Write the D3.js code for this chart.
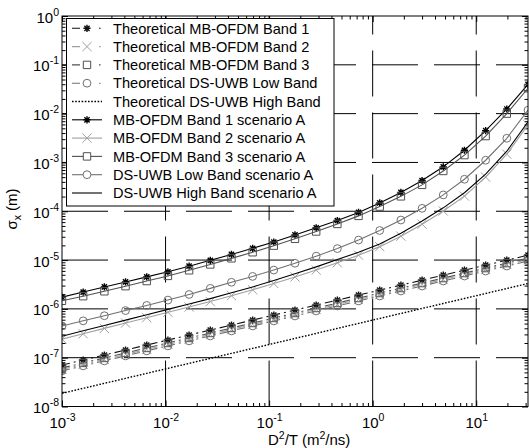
<!DOCTYPE html>
<html>
<head>
<meta charset="utf-8">
<script src="https://cdn.jsdelivr.net/npm/d3@7"></script>
<style>
  body { margin: 0; background: #fff; }
  svg { display: block; font-family: "Liberation Sans", Arial, sans-serif; }
</style>
</head>
<body>
<div id="chart"></div>
<script>
  'use strict';

  // D^2/T sample points (m^2/ns)
  const xVals = [0.001, 0.001601, 0.002565, 0.004107, 0.006579, 0.01054, 0.01688, 0.02704, 0.04329, 0.06934,
    0.1110, 0.1778, 0.2848, 0.4561, 0.7305, 1.170, 1.874, 3.001, 4.806, 7.697, 12.33, 19.74, 31.62];

  // theoretical curves
  const thBand1 = [7.08e-8, 8.96e-8, 1.134e-7, 1.435e-7, 1.816e-7, 2.298e-7, 2.908e-7, 3.680e-7, 4.657e-7, 5.894e-7, 7.459e-7, 9.439e-7,
    1.195e-6, 1.512e-6, 1.913e-6, 2.421e-6, 3.064e-6, 3.877e-6, 4.907e-6, 6.209e-6, 7.858e-6, 9.944e-6, 1.258e-5];
  const thBand2 = [5.76e-8, 7.28e-8, 9.22e-8, 1.167e-7, 1.476e-7, 1.868e-7, 2.364e-7, 2.992e-7, 3.786e-7, 4.792e-7, 6.064e-7, 7.674e-7,
    9.715e-7, 1.229e-6, 1.555e-6, 1.968e-6, 2.491e-6, 3.152e-6, 3.989e-6, 5.048e-6, 6.389e-6, 8.084e-6, 1.023e-5];
  const thBand3 = [6.17e-8, 7.80e-8, 9.88e-8, 1.250e-7, 1.582e-7, 2.002e-7, 2.533e-7, 3.205e-7, 4.056e-7, 5.134e-7, 6.497e-7, 8.221e-7,
    1.041e-6, 1.317e-6, 1.666e-6, 2.109e-6, 2.669e-6, 3.377e-6, 4.274e-6, 5.408e-6, 6.844e-6, 8.661e-6, 1.096e-5];
  const thDsLow = [5.37e-8, 6.80e-8, 8.61e-8, 1.089e-7, 1.378e-7, 1.744e-7, 2.207e-7, 2.793e-7, 3.535e-7, 4.474e-7, 5.661e-7, 7.164e-7,
    9.070e-7, 1.148e-6, 1.452e-6, 1.838e-6, 2.326e-6, 2.943e-6, 3.724e-6, 4.713e-6, 5.964e-6, 7.548e-6, 9.548e-6];
  const thDsHigh = [1.862e-8, 2.356e-8, 2.982e-8, 3.774e-8, 4.776e-8, 6.044e-8, 7.648e-8, 9.678e-8, 1.225e-7, 1.550e-7, 1.962e-7, 2.482e-7,
    3.143e-7, 3.977e-7, 5.031e-7, 6.367e-7, 8.058e-7, 1.020e-6, 1.291e-6, 1.633e-6, 2.067e-6, 2.615e-6, 3.309e-6];

  // scenario A curves
  const aBand1 = [1.738e-6, 2.213e-6, 2.818e-6, 3.565e-6, 4.519e-6, 5.754e-6, 7.499e-6, 9.886e-6, 1.303e-5, 1.738e-5, 2.344e-5, 3.273e-5,
    4.592e-5, 6.457e-5, 9.441e-5, 1.479e-4, 2.427e-4, 4.266e-4, 8.128e-4, 1.778e-3, 4.467e-3, 1.245e-2, 3.981e-2];
  const aBand2 = [2.399e-7, 3.090e-7, 3.981e-7, 5.129e-7, 6.607e-7, 8.511e-7, 1.096e-6, 1.413e-6, 1.862e-6, 2.455e-6, 3.311e-6, 4.519e-6,
    6.237e-6, 8.810e-6, 1.259e-5, 1.884e-5, 3.090e-5, 5.433e-5, 1.012e-4, 2.042e-4, 5.012e-4, 1.479e-3, 5.888e-3];
  const aBand3 = [1.462e-6, 1.820e-6, 2.291e-6, 2.917e-6, 3.715e-6, 4.732e-6, 6.166e-6, 8.128e-6, 1.084e-5, 1.445e-5, 1.972e-5, 2.723e-5,
    3.846e-5, 5.495e-5, 8.035e-5, 1.245e-4, 2.018e-4, 3.467e-4, 6.683e-4, 1.413e-3, 3.467e-3, 1.0e-2, 3.311e-2];
  const aDsLow = [4.467e-7, 5.689e-7, 7.244e-7, 9.226e-7, 1.175e-6, 1.514e-6, 1.972e-6, 2.630e-6, 3.508e-6, 4.624e-6, 6.237e-6, 8.610e-6,
    1.202e-5, 1.718e-5, 2.570e-5, 4.027e-5, 6.607e-5, 1.148e-4, 2.163e-4, 4.519e-4, 1.109e-3, 3.126e-3, 1.175e-2];
  const aDsHigh = [2.754e-7, 3.548e-7, 4.571e-7, 5.888e-7, 7.586e-7, 9.772e-7, 1.259e-6, 1.622e-6, 2.138e-6, 2.818e-6, 3.802e-6, 5.248e-6,
    7.244e-6, 1.023e-5, 1.445e-5, 2.138e-5, 3.548e-5, 6.310e-5, 1.175e-4, 2.399e-4, 5.754e-4, 1.698e-3, 6.761e-3];

  const seriesNames = [
    'Theoretical MB-OFDM Band 1', 'Theoretical MB-OFDM Band 2', 'Theoretical MB-OFDM Band 3',
    'Theoretical DS-UWB Low Band', 'Theoretical DS-UWB High Band',
    'MB-OFDM Band 1 scenario A', 'MB-OFDM Band 2 scenario A', 'MB-OFDM Band 3 scenario A',
    'DS-UWB Low Band scenario A', 'DS-UWB High Band scenario A'
  ];
  const xTicks = [1e-3, 1e-2, 1e-1, 1e0, 1e1];
  const xTickExp = ['-3', '-2', '-1', '0', '1'];
  const yTicks = [1e-8, 1e-7, 1e-6, 1e-5, 1e-4, 1e-3, 1e-2, 1e-1, 1e0];
  const yTickExp = ['-8', '-7', '-6', '-5', '-4', '-3', '-2', '-1', '0'];

  const dashDot = '8,4,2,4';
  const series = [
    {values: thBand1, color: '#111', dash: dashDot, legDash: '8,19,1.6,10', marker: 'star'},
    {values: thBand2, color: '#a0a0a0', dash: dashDot, legDash: '8,19,1.6,10', marker: 'x'},
    {values: thBand3, color: '#505050', dash: dashDot, legDash: '8,19,1.6,10', marker: 'square'},
    {values: thDsLow, color: '#707070', dash: dashDot, legDash: '8,19,1.6,10', marker: 'circle'},
    {values: thDsHigh, color: '#000', dash: '1.6,1.6', legDash: '1.6,1.6', marker: null, width: 1.4},
    {values: aBand1, color: '#000', dash: null, legDash: null, marker: 'star'},
    {values: aBand2, color: '#a0a0a0', dash: null, legDash: null, marker: 'x'},
    {values: aBand3, color: '#505050', dash: null, legDash: null, marker: 'square'},
    {values: aDsLow, color: '#707070', dash: null, legDash: null, marker: 'circle'},
    {values: aDsHigh, color: '#000', dash: null, legDash: null, marker: null}
  ].map((s, i) => Object.assign(s, {name: seriesNames[i]}));

  const W = 529, H = 448;
  const pL = 62, pR = 528, pT = 16, pB = 406.5;

  const x = d3.scaleLog().domain([1e-3, 31.62]).range([pL, pR]);
  const y = d3.scaleLog().domain([1e-8, 1]).range([pB, pT]);

  const svg = d3.select('#chart').append('svg').attr('width', W).attr('height', H);

  svg.append('defs').append('clipPath').attr('id', 'plotclip')
    .append('rect').attr('x', pL).attr('y', pT).attr('width', pR - pL).attr('height', pB - pT);

  // minor tick values per decade
  const xMinor = [];
  for (let d = -3; d <= 1; d++) for (let m = 2; m <= 9; m++) { const v = m * Math.pow(10, d); if (v <= 31.62) xMinor.push(v); }
  const yMinor = [];
  for (let d = -8; d < 0; d++) for (let m = 2; m <= 9; m++) yMinor.push(m * Math.pow(10, d));

  // grid
  const grid = svg.append('g').attr('stroke', '#000').attr('stroke-width', 1).attr('stroke-dasharray', '46,16');
  grid.selectAll('line.h').data(yTicks.slice(1, -1)).enter().append('line')
    .attr('x1', pL).attr('x2', pR).attr('y1', d => y(d)).attr('y2', d => y(d));
  grid.selectAll('line.v').data(xTicks.slice(1)).enter().append('line')
    .attr('x1', d => x(d)).attr('x2', d => x(d)).attr('y1', pB).attr('y2', pT);

  // ticks on all four sides
  function tickAxis(axis, vals, size, tx, ty) {
    const g = svg.append('g').attr('transform', `translate(${tx},${ty})`)
      .call(axis.tickValues(vals).tickSize(-size).tickSizeOuter(0).tickFormat(''));
    g.select('.domain').remove();
    g.selectAll('.tick line').attr('stroke', '#000');
    return g;
  }
  const gxB = tickAxis(d3.axisBottom(x), xTicks, 6, 0, pB);
  tickAxis(d3.axisBottom(x), xMinor, 3.5, 0, pB);
  tickAxis(d3.axisTop(x), xTicks, 6, 0, pT);
  tickAxis(d3.axisTop(x), xMinor, 3.5, 0, pT);
  const gyL = tickAxis(d3.axisLeft(y), yTicks, 6, pL, 0);
  tickAxis(d3.axisLeft(y), yMinor, 3.5, pL, 0);
  tickAxis(d3.axisRight(y), yTicks, 6, pR, 0);
  tickAxis(d3.axisRight(y), yMinor, 3.5, pR, 0);

  // tick labels 10^n
  gxB.selectAll('.tick').each(function (d, i) {
    const t = d3.select(this).select('text').text(null)
      .attr('y', null).attr('dy', null)
      .attr('transform', 'translate(0,21)')
      .attr('fill', '#000').attr('font-size', 15).attr('text-anchor', 'middle');
    t.append('tspan').text('10');
    t.append('tspan').attr('font-size', 10.5).attr('dy', -7).text(xTickExp[i]);
  });
  gyL.selectAll('.tick').each(function (d, i) {
    const t = d3.select(this).select('text').text(null)
      .attr('x', -3).attr('dy', null).attr('y', 6)
      .attr('fill', '#000').attr('font-size', 15).attr('text-anchor', 'end');
    t.append('tspan').text('10');
    t.append('tspan').attr('font-size', 10.5).attr('dy', -7).text(yTickExp[i]);
  });

  // curves
  const line = d3.line().x((d, i) => x(xVals[i])).y(d => y(d));
  const plot = svg.append('g').attr('clip-path', 'url(#plotclip)');

  function markerPath(type) {
    if (type === 'star') {
      const r = 3.6, a = 2.6;
      return `M${-r},0H${r}M0,${-r}V${r}M${-a},${-a}L${a},${a}M${-a},${a}L${a},${-a}`;
    }
    if (type === 'x') { const r = 4.6; return `M${-r},${-r}L${r},${r}M${-r},${r}L${r},${-r}`; }
    if (type === 'square') { const r = 3.7; return `M${-r},${-r}H${r}V${r}H${-r}Z`; }
    if (type === 'circle') { const r = 3.9; return `M${r},0A${r},${r} 0 1,1 ${-r},0A${r},${r} 0 1,1 ${r},0Z`; }
    return '';
  }

  series.forEach(s => {
    plot.append('path').datum(s.values)
      .attr('d', line)
      .attr('fill', 'none')
      .attr('stroke', s.color)
      .attr('stroke-width', s.width || 1.1)
      .attr('stroke-dasharray', s.dash);
    if (s.marker) {
      plot.append('g').selectAll('path').data(s.values).enter().append('path')
        .attr('transform', (d, i) => `translate(${x(xVals[i])},${y(d)})`)
        .attr('d', markerPath(s.marker))
        .attr('fill', 'none')
        .attr('stroke', s.color)
        .attr('stroke-width', s.marker === 'star' ? 1.4 : 1);
    }
  });

  // frame
  svg.append('rect').attr('x', pL).attr('y', pT).attr('width', pR - pL).attr('height', pB - pT)
    .attr('fill', 'none').attr('stroke', '#000').attr('stroke-width', 1);

  // legend
  const lg = svg.append('g');
  lg.append('rect').attr('x', 66.5).attr('y', 18.5).attr('width', 267.5).attr('height', 187.5)
    .attr('fill', '#fff').attr('stroke', '#000').attr('stroke-width', 1);
  const rows = lg.selectAll('g.row').data(series).enter().append('g')
    .attr('transform', (d, i) => `translate(0,${28.3 + i * 18.3})`);
  rows.append('line').attr('x1', 72).attr('x2', 102).attr('y1', 0).attr('y2', 0)
    .attr('stroke', d => d.color).attr('stroke-width', d => d.width || 1.1)
    .attr('stroke-dasharray', d => d.legDash);
  rows.filter(d => d.marker).append('path')
    .attr('transform', 'translate(87,0)')
    .attr('d', d => markerPath(d.marker))
    .attr('fill', d => d.marker === 'star' ? 'none' : '#fff')
    .attr('stroke', d => d.color)
    .attr('stroke-width', d => d.marker === 'star' ? 1.4 : 1);
  rows.append('text').attr('x', 113).attr('y', 5.2)
    .attr('font-size', 14.6).attr('fill', '#000').text(d => d.name);

  // axis labels
  const xl = svg.append('text').attr('x', 268).attr('y', 444.5).attr('font-size', 15).attr('fill', '#000');
  xl.append('tspan').text('D');
  xl.append('tspan').attr('font-size', 10.5).attr('dy', -6).text('2');
  xl.append('tspan').attr('dy', 6).text('/T (m');
  xl.append('tspan').attr('font-size', 10.5).attr('dy', -6).text('2');
  xl.append('tspan').attr('dy', 6).text('/ns)');

  const yl = svg.append('text').attr('transform', 'translate(17,209) rotate(-90)')
    .attr('text-anchor', 'middle').attr('font-size', 15).attr('fill', '#000');
  yl.append('tspan').text('σ');
  yl.append('tspan').attr('font-size', 10.5).attr('dy', 4).text('x');
  yl.append('tspan').attr('dy', -4).text(' (m)');
</script>
</body>
</html>
